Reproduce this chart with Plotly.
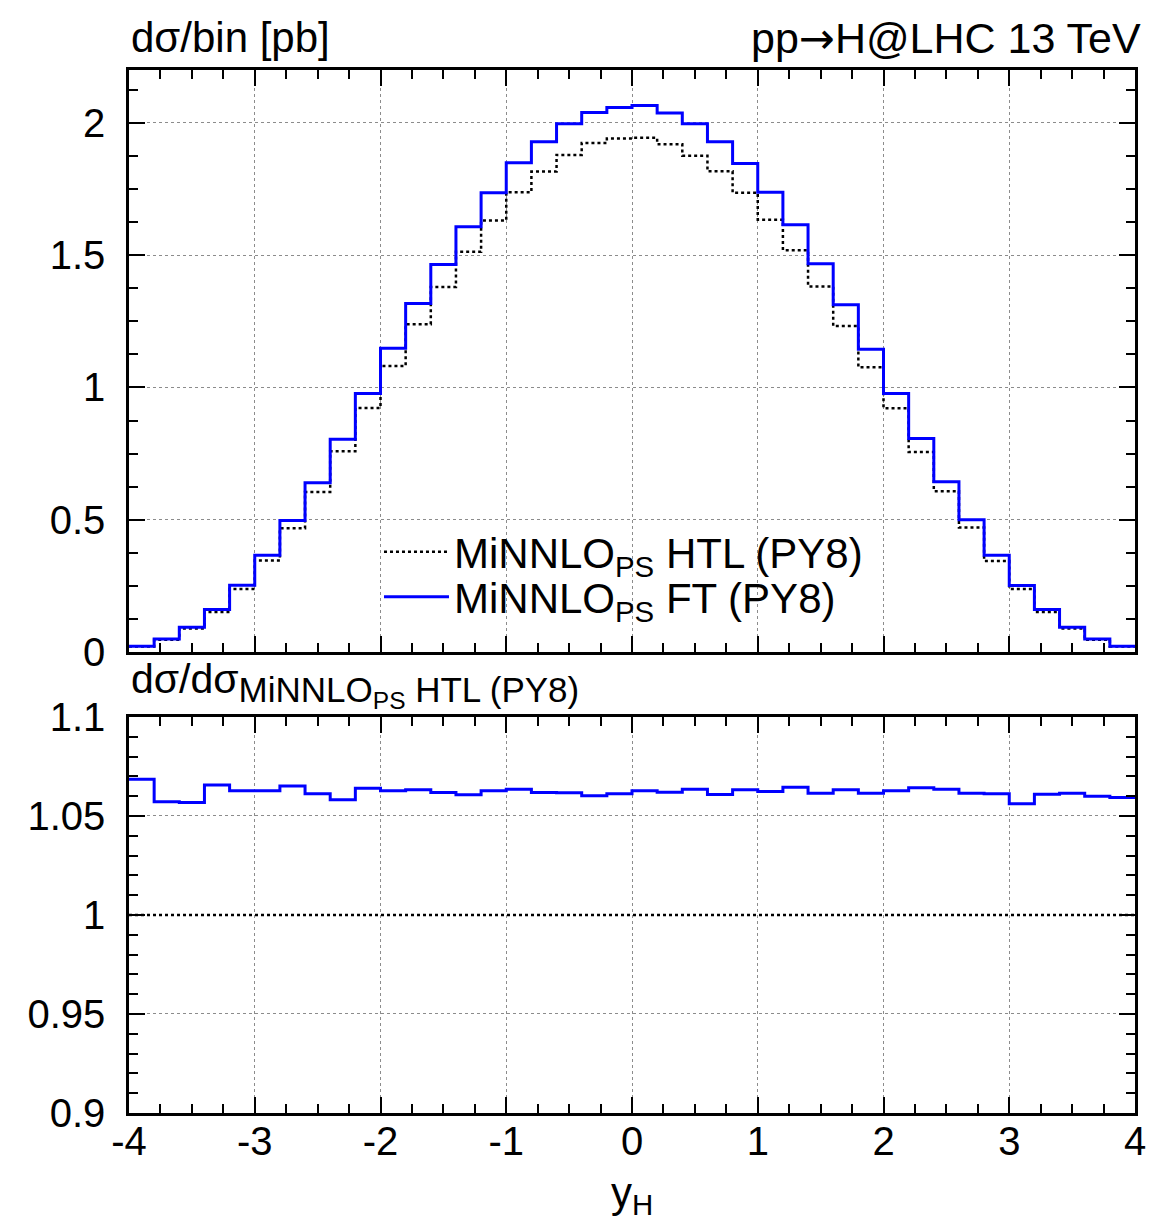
import plotly.graph_objects as go
import numpy as np

# ---------------- data ----------------
bin_edges = [-4.0, -3.8, -3.6, -3.4, -3.2, -3.0, -2.8, -2.6, -2.4, -2.2,
             -2.0, -1.8, -1.6, -1.4, -1.2, -1.0, -0.8, -0.6, -0.4, -0.2,
             0.0, 0.2, 0.4, 0.6, 0.8, 1.0, 1.2, 1.4, 1.6, 1.8,
             2.0, 2.2, 2.4, 2.6, 2.8, 3.0, 3.2, 3.4, 3.6, 3.8, 4.0]

htl_xsec = [0.0205, 0.046, 0.089, 0.151, 0.238, 0.346, 0.468, 0.605, 0.759, 0.922,
            1.081, 1.239, 1.380, 1.513, 1.631, 1.738, 1.816, 1.879, 1.924, 1.941,
            1.944, 1.919, 1.876, 1.817, 1.736, 1.634, 1.519, 1.382, 1.232, 1.076,
            0.921, 0.756, 0.608, 0.471, 0.344, 0.238, 0.151, 0.089, 0.046, 0.0207]

ft_xsec = [0.022, 0.049, 0.094, 0.161, 0.252, 0.366, 0.497, 0.640, 0.804, 0.977,
           1.148, 1.317, 1.465, 1.607, 1.736, 1.849, 1.929, 1.997, 2.039, 2.058,
           2.066, 2.037, 1.997, 1.929, 1.847, 1.738, 1.615, 1.468, 1.313, 1.144,
           0.977, 0.807, 0.644, 0.500, 0.366, 0.251, 0.161, 0.094, 0.049, 0.022]

ft_ratio = [1.0685, 1.0572, 1.0568, 1.0657, 1.0627, 1.0627, 1.0652, 1.0612, 1.0582, 1.0640,
            1.0628, 1.0632, 1.0618, 1.0607, 1.0628, 1.0635, 1.0618, 1.0617, 1.0602, 1.0612,
            1.0628, 1.0620, 1.0635, 1.0608, 1.0633, 1.0623, 1.0645, 1.0615, 1.0633, 1.0615,
            1.0627, 1.0642, 1.0635, 1.0615, 1.0612, 1.0562, 1.0610, 1.0615, 1.0600, 1.0593]

x_tickvals = [-4, -3, -2, -1, 0, 1, 2, 3, 4]
x_ticktext = ["-4", "-3", "-2", "-1", "0", "1", "2", "3", "4"]
top_tickvals = [0, 0.5, 1, 1.5, 2]
top_ticktext = ["0", "0.5", "1", "1.5", "2"]
bot_tickvals = [0.9, 0.95, 1.0, 1.05, 1.1]
bot_ticktext = ["0.9", "0.95", "1", "1.05", "1.1"]

name_htl = "MiNNLO<sub>PS</sub> HTL (PY8)"
name_ft = "MiNNLO<sub>PS</sub> FT (PY8)"

# ratio of the reference to itself
htl_ratio = list(np.array(htl_xsec) / np.array(htl_xsec))


def step(vals):
    return list(vals) + [vals[-1]]


FONT = "Liberation Sans, Arial, Helvetica, sans-serif"
BLUE = "#0000ff"

fig = go.Figure()
fig.add_trace(go.Scatter(x=bin_edges, y=step(htl_xsec), mode="lines", name=name_htl,
                         line=dict(shape="hv", color="black", width=2.5, dash="dot"),
                         xaxis="x", yaxis="y", legend="legend"))
fig.add_trace(go.Scatter(x=bin_edges, y=step(ft_xsec), mode="lines", name=name_ft,
                         line=dict(shape="hv", color=BLUE, width=3),
                         xaxis="x", yaxis="y", legend="legend2"))
fig.add_trace(go.Scatter(x=bin_edges, y=step(htl_ratio), mode="lines", showlegend=False,
                         line=dict(shape="hv", color="black", width=2.5, dash="dot"),
                         xaxis="x2", yaxis="y2"))
fig.add_trace(go.Scatter(x=bin_edges, y=step(ft_ratio), mode="lines", showlegend=False,
                         line=dict(shape="hv", color=BLUE, width=3),
                         xaxis="x2", yaxis="y2"))


def axis_style(**kw):
    d = dict(showline=True, linecolor="black", linewidth=2.5, mirror="allticks",
             ticks="inside", ticklen=16, tickwidth=2, tickcolor="black",
             showgrid=True, gridcolor="#8c8c8c", griddash="dot", gridwidth=1,
             zeroline=False, tickfont=dict(size=40, family=FONT, color="black"))
    d.update(kw)
    return d


leg_common = dict(xanchor="left", yanchor="top", bgcolor="rgba(0,0,0,0)",
                  font=dict(size=42, family=FONT), itemwidth=65, tracegroupgap=0)

fig.update_layout(
    width=1158, height=1225,
    margin=dict(l=129, r=17, t=70, b=112),
    paper_bgcolor="white", plot_bgcolor="white",
    font=dict(family=FONT, color="black"),
    showlegend=True,
    legend=dict(x=0.2485, y=0.5705, **leg_common),
    legend2=dict(x=0.2485, y=0.5273, **leg_common),
    xaxis=axis_style(domain=[0, 1], range=[-4, 4], anchor="y",
                     tickmode="array", tickvals=x_tickvals, ticktext=x_ticktext,
                     showticklabels=False,
                     minor=dict(ticks="inside", ticklen=9, tickwidth=1.5, tickcolor="black",
                                dtick=0.25, tick0=0, showgrid=False)),
    yaxis=axis_style(domain=[0.442, 1.0], range=[0, 2.2], anchor="x",
                     tickmode="array", tickvals=top_tickvals, ticktext=top_ticktext,
                     ticklabelstandoff=13,
                     minor=dict(ticks="inside", ticklen=9, tickwidth=1.5, tickcolor="black",
                                dtick=0.125, tick0=0, showgrid=False)),
    xaxis2=axis_style(domain=[0, 1], range=[-4, 4], anchor="y2", matches="x",
                      tickmode="array", tickvals=x_tickvals, ticktext=x_ticktext,
                      ticklabelstandoff=-9,
                      title=dict(text="y<sub>H</sub>", font=dict(size=42, family=FONT),
                                 standoff=16),
                      minor=dict(ticks="inside", ticklen=9, tickwidth=1.5, tickcolor="black",
                                 dtick=0.25, tick0=0, showgrid=False)),
    yaxis2=axis_style(domain=[0, 0.3797], range=[0.9, 1.1], anchor="x2",
                      tickmode="array", tickvals=bot_tickvals, ticktext=bot_ticktext,
                      ticklabelstandoff=13,
                      minor=dict(ticks="inside", ticklen=9, tickwidth=1.5, tickcolor="black",
                                 dtick=0.01, tick0=0.9, showgrid=False)),
    annotations=[
        dict(text="d\u03c3/bin [pb]", xref="paper", yref="paper", x=0.0, y=1.031,
             xanchor="left", yanchor="middle", showarrow=False,
             font=dict(size=42, family=FONT)),
        dict(text="pp<span style=\"font-family:DejaVu Sans\">\u2192</span>H@LHC 13 TeV",
             xref="paper", yref="paper", x=1.008, y=1.031,
             xanchor="right", yanchor="middle", showarrow=False,
             font=dict(size=43, family=FONT)),
        dict(text="d\u03c3/d\u03c3<sub><span style=\"font-size:35px\">MiNNLO<sub>PS</sub> HTL (PY8)</span></sub>",
             xref="paper", yref="paper", x=0.0, y=0.41,
             xanchor="left", yanchor="middle", showarrow=False,
             font=dict(size=41, family=FONT)),
    ],
)

fig.write_html("out.html")
